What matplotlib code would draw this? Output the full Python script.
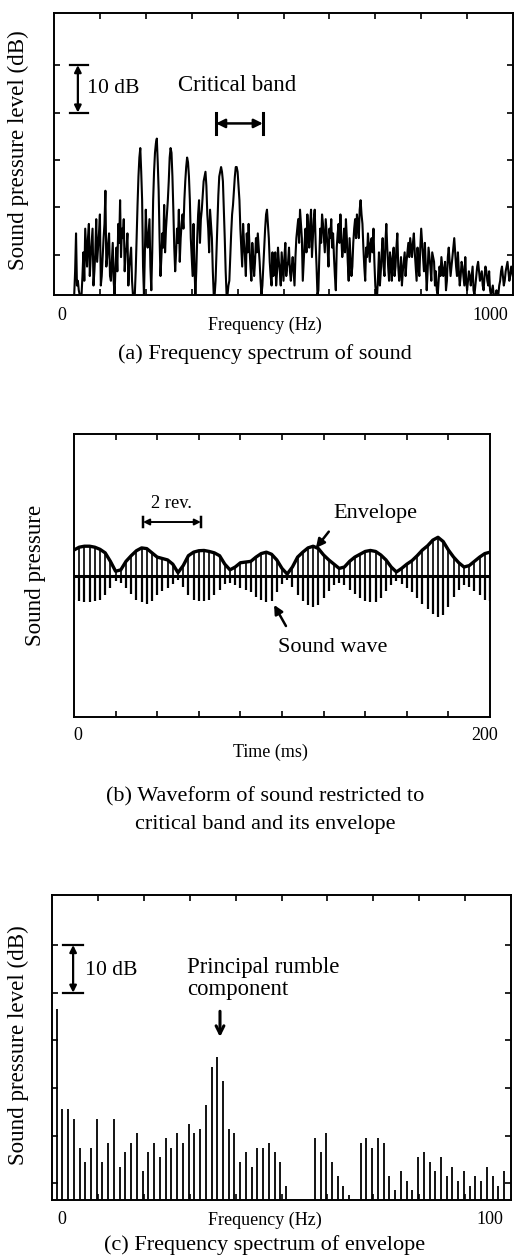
import numpy as np
import matplotlib.pyplot as plt

plt.rcParams['font.family'] = ['Liberation Serif', 'DejaVu Serif']

W, H = 531, 1259

# (a) spectrum of sound, read every 2 Hz from 44 to 1000 Hz (dB above floor)
spec_hz = np.arange(44, 1001, 2)
spec_db = [0, 5, 13, 2, 3, 1, 0, 0, 0, 4, 9, 3, 14, 10, 6, 12, 15, 4, 8, 11,
           14, 2, 5, 9, 16, 7, 10, 13, 17, 2, 4, 8, 12, 15, 22, 6, 8, 11, 13, 4,
           3, 7, 11, 3, 0, 6, 10, 5, 15, 11, 20, 8, 14, 12, 16, 5, 9, 10, 13, 2,
           6, 8, 10, 3, 0, 0, 0, 5, 12, 19, 25, 29, 31, 26, 20, 6, 0, 9, 18, 12,
           10, 13, 16, 6, 1, 9, 20, 26, 30, 32, 33, 28, 22, 12, 4, 8, 13, 10, 19, 9,
           14, 17, 20, 24, 29, 31, 30, 25, 18, 10, 5, 9, 14, 11, 18, 7, 12, 15, 17, 14,
           20, 24, 27, 29, 28, 25, 20, 12, 8, 4, 15, 6, 0, 5, 12, 17, 20, 11, 16, 18,
           21, 24, 25, 26, 23, 17, 14, 9, 18, 15, 12, 5, 0, 0, 3, 9, 15, 21, 25, 26,
           27, 26, 24, 18, 12, 5, 0, 0, 2, 3, 8, 13, 17, 19, 22, 25, 27, 27, 26, 23,
           20, 14, 10, 6, 15, 11, 8, 4, 13, 9, 15, 10, 6, 3, 11, 8, 4, 7, 12, 9,
           13, 10, 7, 3, 0, 2, 6, 10, 14, 17, 18, 15, 12, 7, 4, 2, 9, 4, 6, 9,
           2, 5, 10, 7, 5, 2, 9, 6, 3, 8, 11, 4, 6, 7, 10, 5, 3, 6, 8, 5,
           2, 8, 12, 14, 16, 11, 18, 15, 12, 3, 7, 11, 14, 9, 17, 13, 10, 15, 18, 8,
           12, 16, 18, 11, 6, 0, 1, 8, 14, 11, 17, 15, 12, 9, 16, 13, 10, 6, 14, 12,
           16, 10, 13, 8, 4, 1, 10, 13, 15, 11, 17, 12, 8, 10, 14, 9, 16, 12, 7, 3,
           12, 8, 4, 6, 11, 14, 16, 12, 17, 15, 12, 18, 20, 17, 15, 10, 6, 3, 10, 8,
           13, 10, 7, 11, 12, 9, 14, 7, 2, 0, 0, 4, 9, 2, 5, 9, 12, 6, 4, 11,
           15, 10, 6, 3, 9, 7, 3, 8, 10, 4, 6, 10, 13, 6, 3, 5, 8, 2, 5, 7,
           9, 4, 7, 9, 11, 8, 12, 10, 8, 11, 13, 9, 6, 3, 10, 6, 4, 10, 14, 11,
           8, 5, 11, 6, 1, 5, 10, 8, 6, 3, 9, 8, 7, 2, 5, 1, 0, 3, 6, 4,
           8, 6, 4, 5, 7, 1, 3, 8, 10, 7, 4, 6, 8, 10, 12, 9, 6, 4, 9, 5,
           2, 4, 7, 6, 4, 2, 8, 3, 1, 3, 5, 4, 2, 4, 6, 1, 0, 2, 4, 6,
           7, 5, 3, 4, 5, 2, 1, 4, 6, 5, 3, 2, 5, 1, 0, 1, 2, 0, 0, 0,
           1, 0, 0, 2, 3, 5, 6, 4, 2, 3, 5, 6, 7, 5, 3, 4, 6, 5, 4]

# (b) sound wave restricted to critical band: one line every 2.5 ms
wave_t = np.arange(0, 200.1, 2.5)
wave_pos = [0.18, 0.20, 0.207, 0.207, 0.20, 0.185, 0.16, 0.10, 0.03, 0.04,
            0.10, 0.14, 0.175, 0.195, 0.19, 0.16, 0.13, 0.12, 0.11, 0.08,
            0.02, 0.07, 0.14, 0.165, 0.175, 0.177, 0.17, 0.16, 0.14, 0.08,
            0.04, 0.06, 0.09, 0.095, 0.10, 0.13, 0.155, 0.165, 0.15, 0.11,
            0.05, 0.01, 0.06, 0.13, 0.165, 0.195, 0.207, 0.19, 0.145, 0.11,
            0.08, 0.05, 0.06, 0.10, 0.13, 0.15, 0.17, 0.177, 0.17, 0.145,
            0.11, 0.06, 0.025, 0.05, 0.08, 0.105, 0.14, 0.18, 0.21, 0.25,
            0.27, 0.24, 0.18, 0.13, 0.09, 0.06, 0.07, 0.10, 0.13, 0.155, 0.165]
wave_neg = [0.17, 0.18, 0.185, 0.185, 0.18, 0.17, 0.14, 0.09, 0.04, 0.05,
            0.09, 0.13, 0.17, 0.19, 0.20, 0.18, 0.14, 0.11, 0.09, 0.06,
            0.03, 0.08, 0.14, 0.17, 0.18, 0.18, 0.17, 0.14, 0.10, 0.06,
            0.05, 0.07, 0.09, 0.10, 0.12, 0.15, 0.17, 0.19, 0.18, 0.12,
            0.06, 0.03, 0.08, 0.14, 0.18, 0.21, 0.22, 0.21, 0.16, 0.11,
            0.07, 0.05, 0.07, 0.10, 0.13, 0.16, 0.18, 0.19, 0.19, 0.16,
            0.11, 0.07, 0.04, 0.06, 0.09, 0.12, 0.16, 0.20, 0.24, 0.27,
            0.29, 0.28, 0.22, 0.15, 0.10, 0.07, 0.08, 0.11, 0.14, 0.17, 0.18]

# (c) spectrum of envelope, one line every 1.25 Hz
env_hz = np.arange(1.0, 99.0, 1.25)
env_db = [40, 19, 19, 17, 11, 8, 11, 17, 8, 12, 17, 7, 10, 12, 14, 6, 10, 12, 9, 13,
          11, 14, 12, 16, 14, 15, 20, 28, 30, 25, 15, 14, 8, 10, 7, 11, 11, 12, 10, 8,
          3, 0, 0, 0, 0, 13, 10, 14, 8, 5, 3, 1, 0, 12, 13, 11, 13, 12, 5, 2,
          6, 4, 2, 9, 10, 8, 6, 9, 5, 7, 4, 6, 3, 5, 4, 7, 5, 3, 6]

fig = plt.figure(figsize=(W / 100, H / 100), dpi=100)


def px_axes(l, t, r, b):
    return fig.add_axes([l / W, 1 - b / H, (r - l) / W, (b - t) / H])


def frame(ax):
    for s in ax.spines.values():
        s.set_linewidth(1.4)
    ax.tick_params(direction='in', length=4, width=1.2, top=True, right=True,
                   labelbottom=False, labelleft=False)


def ftext(x, y, s, **kw):
    kw.setdefault('ha', 'center')
    kw.setdefault('va', 'center')
    kw.setdefault('fontsize', 13)
    fig.text(x / W, 1 - y / H, s, **kw)


def bar_arrow(ax, x0, x1, y, h, lw, ms):
    # double arrow with end bars
    ax.annotate('', xy=(x0, y), xytext=(x1, y),
                arrowprops=dict(arrowstyle='<|-|>', color='black', lw=lw,
                                mutation_scale=ms, shrinkA=0, shrinkB=0))
    ax.plot([x0, x0], [y - h, y + h], color='black', lw=lw + 0.4)
    ax.plot([x1, x1], [y - h, y + h], color='black', lw=lw + 0.4)


# ---------- (a)
ax1 = px_axes(54, 13, 513, 295)
ax1.plot(spec_hz, spec_db, color='black', lw=1.5)
ax1.set_xlim(0, 1000)
ax1.set_ylim(0, 59.5)
ax1.set_xticks(np.arange(100, 1000, 100))
ax1.set_yticks([8.5, 18.5, 28.5, 38.5, 48.5])
frame(ax1)
ax1.annotate('', xy=(52, 38.5), xytext=(52, 48.5),
             arrowprops=dict(arrowstyle='<|-|>', color='black', lw=1.6,
                             mutation_scale=10, shrinkA=0, shrinkB=0))
ax1.plot([35, 74], [48.5, 48.5], color='black', lw=1.6)
ax1.plot([35, 74], [38.5, 38.5], color='black', lw=1.6)
ax1.text(72, 43.5, '10 dB', ha='left', va='center', fontsize=15.6)
ax1.text(399, 44.2, 'Critical band', ha='center', va='center', fontsize=16.4)
bar_arrow(ax1, 353, 455, 36.2, 2.2, 1.8, 13)

ftext(18, 150, 'Sound pressure level (dB)', rotation=90, fontsize=16.6)
ftext(62, 315, '0')
ftext(490, 315, '1000')
ftext(265, 325, 'Frequency (Hz)')
ftext(265, 354, '(a) Frequency spectrum of sound', fontsize=16)

# ---------- (b)
ax2 = px_axes(74, 434, 490, 717)
ax2.vlines(wave_t, 0, wave_pos, color='black', lw=1.2)
ax2.vlines(wave_t, 0, -np.array(wave_neg), color='black', lw=1.6)
ax2.plot(wave_t, wave_pos, color='black', lw=2.4)
ax2.axhline(0, color='black', lw=2.2)
ax2.set_xlim(0, 200)
ax2.set_ylim(-1, 1)
ax2.set_xticks(np.arange(20, 200, 20))
ax2.set_yticks([])
frame(ax2)
bar_arrow(ax2, 33.2, 61, 0.378, 0.035, 1.4, 9)
ax2.text(47, 0.51, '2 rev.', ha='center', va='center', fontsize=13.3)
ax2.text(144.7, 0.435, 'Envelope', ha='center', va='center', fontsize=16)
ax2.annotate('', xy=(116.3, 0.194), xytext=(122.5, 0.31),
             arrowprops=dict(arrowstyle='-|>', color='black', lw=1.8,
                             mutation_scale=13, shrinkA=0, shrinkB=0))
ax2.text(124.5, -0.51, 'Sound wave', ha='center', va='center', fontsize=16)
ax2.annotate('', xy=(96.2, -0.208), xytext=(101.9, -0.357),
             arrowprops=dict(arrowstyle='-|>', color='black', lw=1.8,
                             mutation_scale=13, shrinkA=0, shrinkB=0))

ftext(35, 575, 'Sound pressure', rotation=90, fontsize=16.6)
ftext(78, 735, '0')
ftext(485, 735, '200')
ftext(270, 752, 'Time (ms)')
ftext(265, 797, '(b) Waveform of sound restricted to', fontsize=16)
ftext(265, 825, 'critical band and its envelope', fontsize=16)

# ---------- (c)
ax3 = px_axes(52, 895, 511, 1200)
ax3.vlines(env_hz, 0, env_db, color='black', lw=1.3)
ax3.set_xlim(0, 100)
ax3.set_ylim(0, 64)
ax3.set_xticks(np.arange(10, 100, 10))
ax3.set_yticks([3.5, 13.5, 23.5, 33.5, 43.5, 53.5])
frame(ax3)
ax3.annotate('', xy=(4.6, 43.5), xytext=(4.6, 53.5),
             arrowprops=dict(arrowstyle='<|-|>', color='black', lw=1.6,
                             mutation_scale=10, shrinkA=0, shrinkB=0))
ax3.plot([2.4, 6.8], [53.5, 53.5], color='black', lw=1.6)
ax3.plot([2.4, 6.8], [43.5, 43.5], color='black', lw=1.6)
ax3.text(7.2, 48.2, '10 dB', ha='left', va='center', fontsize=15.6)
ax3.text(29.4, 46.5, 'Principal rumble\ncomponent', ha='left', va='center',
         fontsize=16.4, linespacing=1.1)
ax3.annotate('', xy=(36.6, 34.2), xytext=(36.6, 39.6),
             arrowprops=dict(arrowstyle='->', color='black', lw=2.2,
                             mutation_scale=14, shrinkA=0, shrinkB=0))

ftext(18, 1045, 'Sound pressure level (dB)', rotation=90, fontsize=16.6)
ftext(62, 1220, '0')
ftext(490, 1220, '100')
ftext(265, 1220, 'Frequency (Hz)')
ftext(265, 1245, '(c) Frequency spectrum of envelope', fontsize=16)

fig.savefig('out.png', dpi=100)
